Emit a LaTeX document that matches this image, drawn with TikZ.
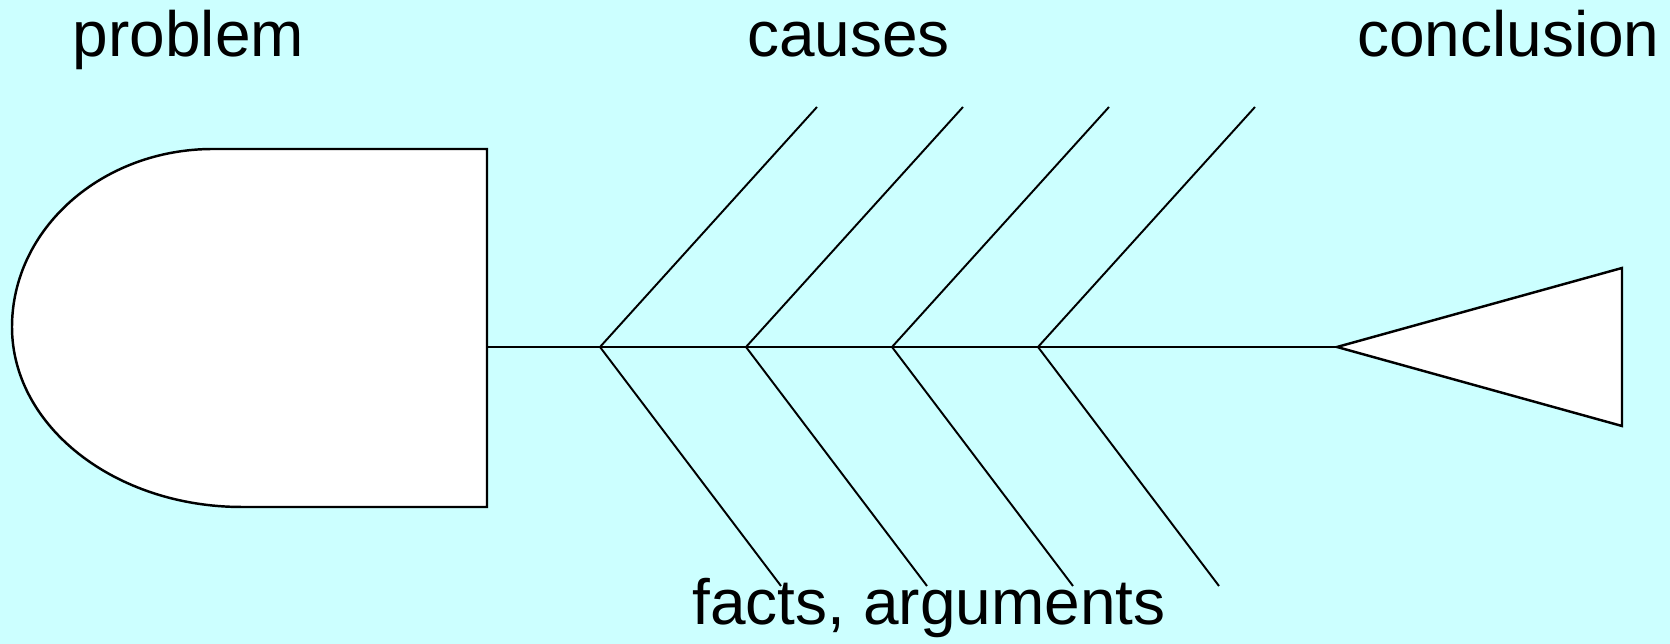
\documentclass[tikz,border=0pt]{standalone}
\usepackage{fontspec}
\setmainfont{Liberation Sans}
\usepackage{tikz}
\usetikzlibrary{positioning,calc}
\definecolor{bgcolor}{RGB}{204,255,255}
\tikzset{
  fish label/.style={
    inner sep=0pt,
    anchor=base,
    font=\fontsize{18.2pt}{21pt}\selectfont
  },
  fish body/.style={
    draw=black,
    fill=white,
    line width=0.7pt,
    line join=miter
  },
  spine/.style={
    draw=black,
    line width=0.75pt
  },
  bone/.style={
    draw=black,
    line width=0.55pt
  }
}

\begin{document}
\begin{tikzpicture}
  % Background
  \fill[bgcolor] (0,0) rectangle (16.70,6.44);
  \useasboundingbox (0,0) rectangle (16.70,6.44);

  % Head (problem)
  \draw[fish body] (4.87,4.95) -- (2.13,4.95)
    arc[start angle=90, end angle=180, x radius=2.01, y radius=1.78]
    arc[start angle=180, end angle=270, x radius=2.30, y radius=1.80]
    -- (4.87,1.37) -- cycle;
  \coordinate (head) at (4.87,2.97);

  % Tail (conclusion)
  \coordinate (tail) at (13.37,2.97);
  \draw[fish body] (tail) -- (16.22,3.76) -- (16.22,2.18) -- cycle;

  % Spine
  \draw[spine] (head) -- (tail);

  % Bones
  \foreach \i in {0,...,3} {
    \coordinate (j\i) at ({6.00+1.46*\i},2.97);
    \draw[bone] (j\i) -- ++(2.17,2.40);
    \draw[bone] (j\i) -- ++(1.81,-2.39);
  }

  % Labels
  \node[fish label] (problem) at (1.885,5.87) {problem};
  \node[fish label] (causes) at (8.485,5.87) {causes};
  \node[fish label] (conclusion) at (15.085,5.87) {conclusion};
  \node[fish label] (facts) at (9.29,0.19) {facts, arguments};
\end{tikzpicture}
\end{document}
